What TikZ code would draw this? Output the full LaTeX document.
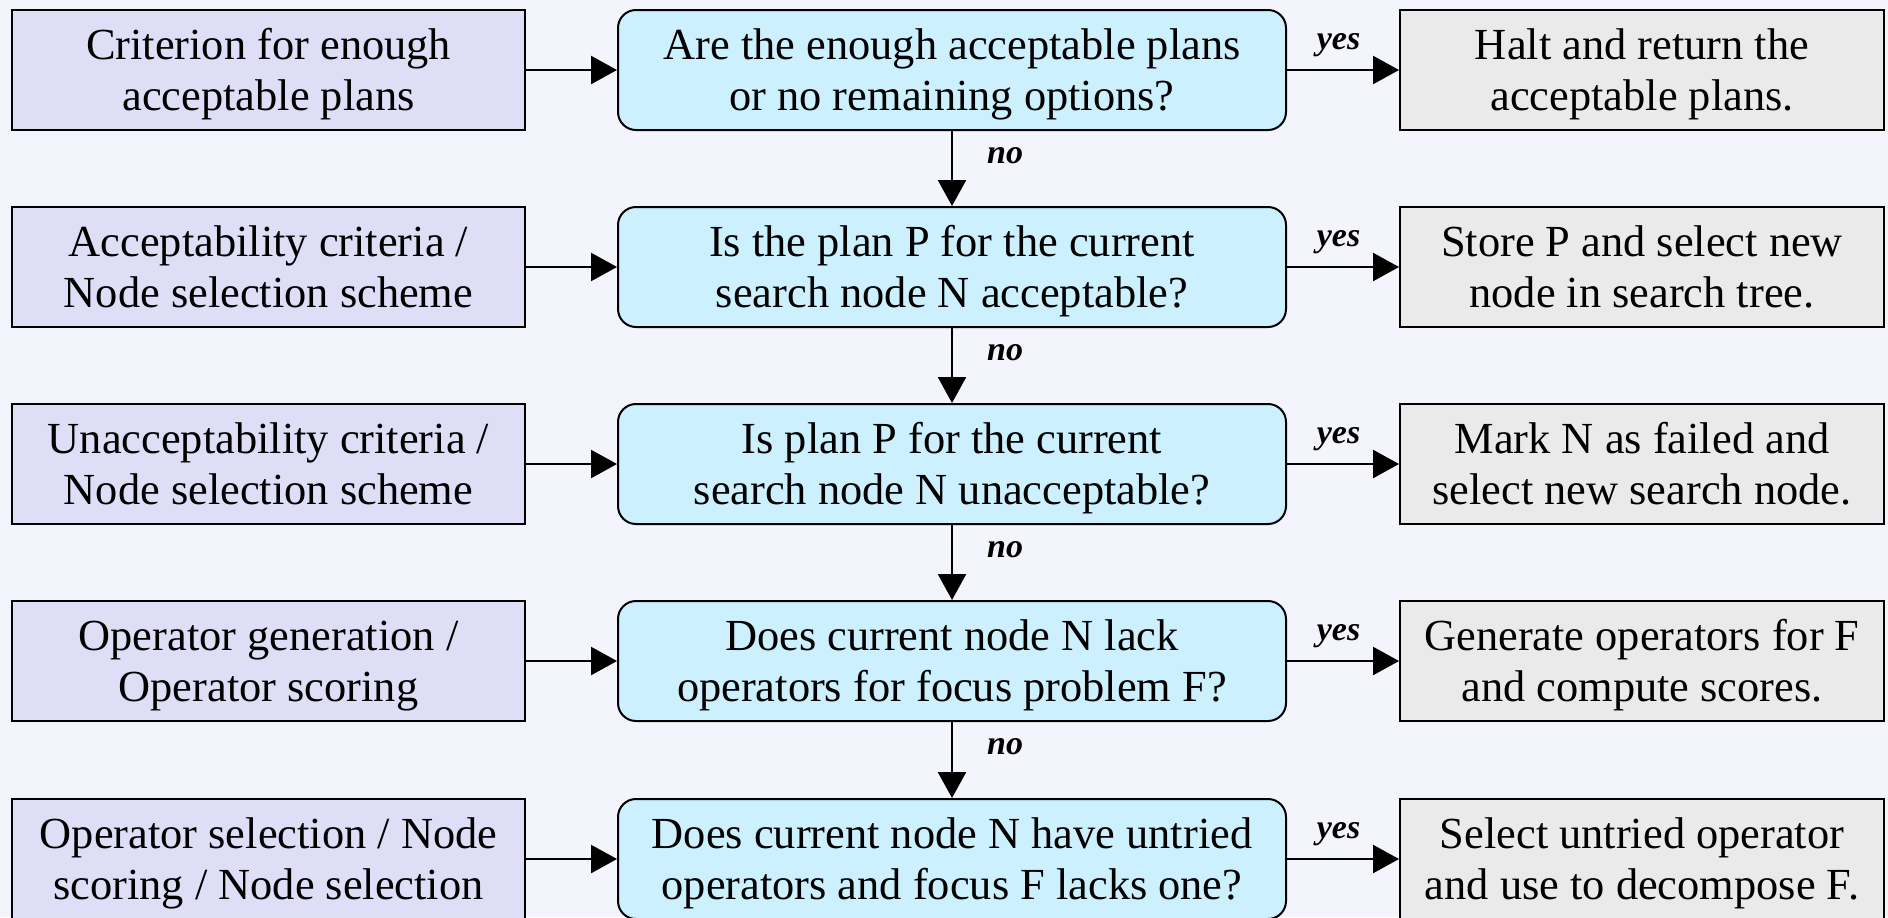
\documentclass[tikz,border=0pt]{standalone}
\usepackage{fontspec}
\setmainfont{Liberation Serif}
\usetikzlibrary{arrows.meta}

\definecolor{pagebg}{RGB}{244,244,252}
\definecolor{inputfill}{RGB}{222,222,246}
\definecolor{testfill}{RGB}{204,240,254}
\definecolor{actionfill}{RGB}{234,234,234}

% two centred lines, set a little below the box centre
\newcommand{\boxlines}[2]{\raisebox{-2.5pt}[\height][\depth]{\begin{tabular}{@{}c@{}}#1\\#2\end{tabular}}}

\tikzset{
  boxbase/.style={draw=black, line width=1pt, align=center, inner sep=0pt,
    minimum height=60pt, font=\fontsize{22.2}{25.4}\selectfont},
  inputbox/.style={boxbase, fill=inputfill, minimum width=256.5pt},
  testbox/.style={boxbase, fill=testfill, rounded corners=9pt, minimum width=334pt},
  actionbox/.style={boxbase, fill=actionfill, minimum width=242pt},
  arr/.style={line width=1.2pt, -{Triangle[length=13pt,width=14pt]}},
  lab/.style={font=\fontsize{17}{20}\selectfont\bfseries\itshape, inner sep=0pt}
}

\begin{document}
\begin{tikzpicture}[x=0.5pt, y=-0.5pt]
  \fill[pagebg] (0,0) rectangle (1888,917);
  \useasboundingbox (0,0) rectangle (1888,917);

  % inputs on the left
  \node[inputbox] (i1) at (268.5,70)  {\boxlines{Criterion for enough}{acceptable plans}};
  \node[inputbox] (i2) at (268.5,267) {\boxlines{Acceptability criteria /}{Node selection scheme}};
  \node[inputbox] (i3) at (268.5,464) {\boxlines{Unacceptability criteria /}{Node selection scheme}};
  \node[inputbox] (i4) at (268.5,661) {\boxlines{Operator generation /}{Operator scoring}};
  \node[inputbox] (i5) at (268.5,859) {\boxlines{Operator selection / Node}{scoring / Node selection}};

  % decision tests in the middle
  \node[testbox] (t1) at (952,70)  {\boxlines{Are the enough acceptable plans}{or no remaining options?}};
  \node[testbox] (t2) at (952,267) {\boxlines{Is the plan P for the current}{search node N acceptable?}};
  \node[testbox] (t3) at (952,464) {\boxlines{Is plan P for the current}{search node N unacceptable?}};
  \node[testbox] (t4) at (952,661) {\boxlines{Does current node N lack}{operators for focus problem F?}};
  \node[testbox] (t5) at (952,859) {\boxlines{Does current node N have untried}{operators and focus F lacks one?}};

  % actions on the right
  \node[actionbox] (a1) at (1642,70)  {\boxlines{Halt and return the}{acceptable plans.}};
  \node[actionbox] (a2) at (1642,267) {\boxlines{Store P and select new}{node in search tree.}};
  \node[actionbox] (a3) at (1642,464) {\boxlines{Mark N as failed and}{select new search node.}};
  \node[actionbox] (a4) at (1642,661) {\boxlines{Generate operators for F}{and compute scores.}};
  \node[actionbox] (a5) at (1642,859) {\boxlines{Select untried operator}{and use to decompose F.}};

  % inputs feed the tests, tests lead to actions
  \foreach \k in {1,...,5} {
    \draw[arr] (i\k) -- (t\k);
    \draw[arr] (t\k) -- node[lab, pos=0.46, anchor=base, yshift=10.5pt] {yes} (a\k);
  }

  % chain of tests
  \foreach \k/\n in {1/2,2/3,3/4,4/5} {
    \draw[arr] (t\k) -- node[lab, pos=0.43, anchor=base west, xshift=17pt] {no} (t\n);
  }
\end{tikzpicture}
\end{document}
